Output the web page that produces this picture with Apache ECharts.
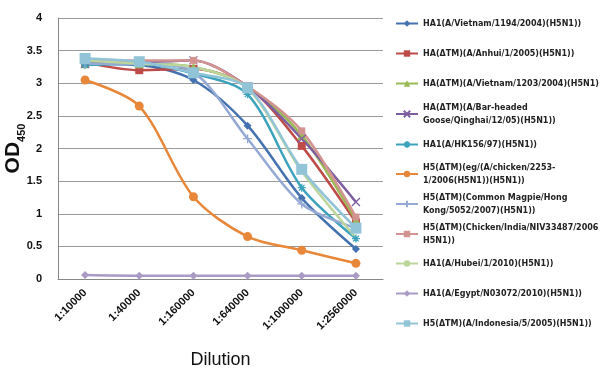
<!DOCTYPE html>
<html><head><meta charset="utf-8">
<script src="https://cdn.jsdelivr.net/npm/echarts@6/dist/echarts.min.js"></script>
<style>html,body{margin:0;padding:0;background:#fff}#c{width:602px;height:372px}</style>
</head><body><div id="c"></div>
<script>
const categories = ['1:10000','1:40000','1:160000','1:640000','1:1000000','1:2560000'];
const seriesNames = [
  'HA1(A/Vietnam/1194/2004)(H5N1))',
  'HA(ΔTM)(A/Anhui/1/2005)(H5N1))',
  'HA(ΔTM)(A/Vietnam/1203/2004)(H5N1))',
  'HA(ΔTM)(A/Bar-headed Goose/Qinghai/12/05)(H5N1))',
  'HA1(A/HK156/97)(H5N1))',
  'H5(ΔTM)(eg/(A/chicken/2253-1/2006(H5N1))(H5N1))',
  'H5(ΔTM)(Common Magpie/Hong Kong/5052/2007)(H5N1))',
  'H5(ΔTM)(Chicken/India/NIV33487/2006)(H5N1))',
  'HA1(A/Hubei/1/2010)(H5N1))',
  'HA1(A/Egypt/N03072/2010)(H5N1))',
  'H5(ΔTM)(A/Indonesia/5/2005)(H5N1))'
];
const legendLabels = [
  'HA1(A/Vietnam/1194/2004)(H5N1))',
  'HA(ΔTM)(A/Anhui/1/2005)(H5N1))',
  'HA(ΔTM)(A/Vietnam/1203/2004)(H5N1))',
  'HA(ΔTM)(A/Bar-headed\nGoose/Qinghai/12/05)(H5N1))',
  'HA1(A/HK156/97)(H5N1))',
  'H5(ΔTM)(eg/(A/chicken/2253-\n1/2006(H5N1))(H5N1))',
  'H5(ΔTM)(Common Magpie/Hong\nKong/5052/2007)(H5N1))',
  'H5(ΔTM)(Chicken/India/NIV33487/2006)(\nH5N1))',
  'HA1(A/Hubei/1/2010)(H5N1))',
  'HA1(A/Egypt/N03072/2010)(H5N1))',
  'H5(ΔTM)(A/Indonesia/5/2005)(H5N1))'
];
const vietnam1194 = [3.30, 3.28, 3.05, 2.35, 1.24, 0.46];
const anhui = [3.32, 3.20, 3.22, 2.95, 2.04, 0.87];
const vietnam1203 = [3.30, 3.30, 3.25, 2.95, 2.20, 0.90];
const qinghai = [3.30, 3.32, 3.35, 2.95, 2.15, 1.18];
const hk156 = [3.28, 3.30, 3.15, 2.83, 1.40, 0.62];
const egChicken = [3.05, 2.65, 1.26, 0.65, 0.44, 0.24];
const magpie = [3.30, 3.30, 3.17, 2.15, 1.15, 0.78];
const india = [3.35, 3.35, 3.35, 2.95, 2.27, 0.95];
const hubei = [3.35, 3.30, 3.25, 2.92, 1.65, 0.63];
const egypt = [0.06, 0.05, 0.05, 0.05, 0.05, 0.05];
const indonesia = [3.38, 3.33, 3.16, 2.93, 1.68, 0.78];
const yTicks = ['0','0.5','1','1.5','2','2.5','3','3.5','4'];

const allData = [vietnam1194, anhui, vietnam1203, qinghai, hk156, egChicken, magpie, india, hubei, egypt, indonesia];
const colors = ['#4472B0','#BE4B48','#98B954','#7D5FA0','#3DA3BD','#E8873A','#95A9D4','#D39391','#BCD59A','#A99BC6','#92C4D8'];
const symbols = ['diamond','rect','triangle','path://M0,0L10,10M10,0L0,10','path://M0,5L10,5M5,0L5,10M1.5,1.5L8.5,8.5M8.5,1.5L1.5,8.5','circle','path://M0,5L10,5M5,0L5,10','path://M0,4L10,4L10,6L0,6Z','none','diamond','rect'];
const symSizes = [8,8,9,8,8,9,9,7,0,8,11];
const strokeSym = [false,false,false,true,true,false,true,false,false,false,false];
const legendTops = [17,47,77,101,138,161,191,221,257,287,317];

const series = allData.map((d,i)=>({
  name: seriesNames[i], type:'line', data:d, smooth:0.3,
  symbol: symbols[i], symbolSize: symSizes[i], showSymbol: symbols[i] !== 'none',
  lineStyle:{color:colors[i], width:2.5},
  itemStyle: strokeSym[i] ? {color:colors[i], borderColor:colors[i], borderWidth:1.3} : {color:colors[i], borderWidth:0},
  emphasis:{disabled:true}, animation:false
}));

const legends = seriesNames.map((n,i)=>({
  id:'lg'+i, data:[n], orient:'vertical', left:395, top:legendTops[i],
  itemWidth:22, itemHeight:8, itemGap:0, padding:0,
  formatter: ()=>legendLabels[i],
  textStyle:{fontFamily:'DejaVu Sans', fontSize:8, fontWeight:'bold', color:'#222', lineHeight:13,
    width:178, overflow:'truncate', ellipsis:''}
}));

const chart = echarts.init(document.getElementById('c'), null, {renderer:'canvas'});
chart.setOption({
  animation:false,
  color: colors,
  grid:{left:58, right:219, top:18, bottom:93, containLabel:false, outerBoundsMode:'none'},
  legend: legends,
  xAxis:{type:'category', data:categories, boundaryGap:true,
    axisLine:{show:true, lineStyle:{color:'#888', width:1}}, axisTick:{show:false},
    axisLabel:{rotate:45, margin:12, fontFamily:'Liberation Sans', fontSize:11, fontWeight:'bold', color:'#111'},
    name:'Dilution', nameLocation:'middle', nameGap:72, nameMoveOverlap:false,
    nameTextStyle:{fontFamily:'Liberation Sans', fontSize:18, color:'#111'}},
  yAxis:{type:'value', min:0, max:4, interval:0.5,
    axisLine:{show:true, lineStyle:{color:'#888', width:1}}, axisTick:{show:false},
    splitLine:{lineStyle:{color:'#9a9a9a', width:1}},
    axisLabel:{margin:16, fontFamily:'Liberation Sans', fontSize:11, fontWeight:'bold', color:'#111',
      formatter:(v)=>yTicks[Math.round(v*2)]},
    name:'{a|OD}{b|450}', nameLocation:'middle', nameRotate:90, nameGap:34, nameMoveOverlap:false,
    nameTextStyle:{rich:{
      a:{fontFamily:'Liberation Sans', fontSize:21, fontWeight:'bold', color:'#111'},
      b:{fontFamily:'Liberation Sans', fontSize:11, fontWeight:'bold', color:'#111', verticalAlign:'bottom', padding:[0,0,-3,0]}
    }}},
  series: series
});
</script></body></html>
